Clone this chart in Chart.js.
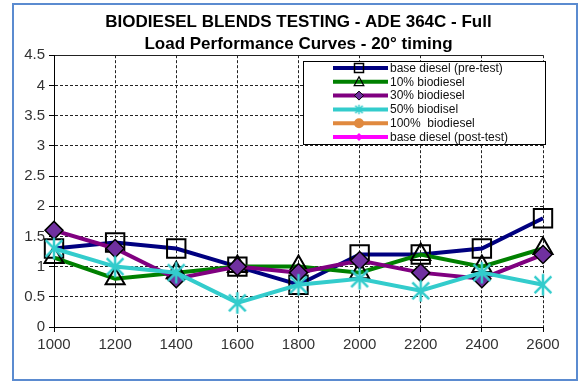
<!DOCTYPE html>
<html>
<head>
<meta charset="utf-8">
<script src="https://cdn.jsdelivr.net/npm/chart.js@4.4.1/dist/chart.umd.min.js"></script>
<style>
  html, body { margin: 0; padding: 0; background: #fff; }
  #wrap { width: 586px; height: 382px; }
</style>
</head>
<body>
<div id="wrap"><canvas id="perfChart" width="586" height="382"></canvas></div>
<script>
// Engine speed (rpm) on the x axis
const rpm = ['1000', '1200', '1400', '1600', '1800', '2000', '2200', '2400', '2600'];

// Series values
const basePre = [1.3, 1.4, 1.3, 1.0, 0.7, 1.2, 1.2, 1.3, 1.8];
const bio10 = [1.15, 0.8, 0.9, 1.0, 1.0, 0.9, 1.2, 1.0, 1.3];
const bio30 = [1.6, 1.3, 0.8, 1.0, 0.9, 1.1, 0.9, 0.8, 1.2];
const bio50 = [1.3, 1.0, 0.9, 0.4, 0.7, 0.8, 0.6, 0.9, 0.7];
const bio100 = [];
const basePost = [];

const seriesNames = [
    'base diesel (pre-test)',
    '10% biodiesel',
    '30% biodiesel',
    '50% biodisel',
    '100%  biodiesel',
    'base diesel (post-test)'
];

const titleLines = [
    'BIODIESEL BLENDS TESTING - ADE 364C - Full',
    'Load Performance Curves - 20\u00b0 timing'
];

const yMin = 0;
const yMax = 4.5;
const yStep = 0.5;

// asterisk marker (vertical bar + X), drawn on a small canvas
function asterisk(size, color, lw) {
    const c = document.createElement('canvas');
    c.width = size;
    c.height = size;
    const g = c.getContext('2d');
    const m = size / 2;
    const r = size / 2 - lw / 2;
    const d = r * 0.78;
    g.strokeStyle = color;
    g.lineWidth = lw;
    g.lineCap = 'butt';
    g.beginPath();
    g.moveTo(m, m - r); g.lineTo(m, m + r);
    g.moveTo(m - d, m - d); g.lineTo(m + d, m + d);
    g.moveTo(m + d, m - d); g.lineTo(m - d, m + d);
    g.stroke();
    return c;
}

const starBig = asterisk(24, '#33CCCC', 2.5);
const starSmall = asterisk(11, '#33CCCC', 1.5);

function drawMarker(ctx, style, x, y, r, fill, stroke, lw) {
    ctx.save();
    ctx.fillStyle = fill;
    ctx.strokeStyle = stroke;
    ctx.lineWidth = lw;
    ctx.beginPath();
    if (style === 'rect') {
        ctx.rect(x - r, y - r, 2 * r, 2 * r);
    } else if (style === 'triangle') {
        ctx.moveTo(x, y - r);
        ctx.lineTo(x + r * 0.95, y + r * 0.75);
        ctx.lineTo(x - r * 0.95, y + r * 0.75);
        ctx.closePath();
    } else if (style === 'rectRot') {
        ctx.moveTo(x, y - r);
        ctx.lineTo(x + r, y);
        ctx.lineTo(x, y + r);
        ctx.lineTo(x - r, y);
        ctx.closePath();
    } else if (style === 'circle') {
        ctx.arc(x, y, r, 0, Math.PI * 2);
    }
    if (style instanceof HTMLCanvasElement) {
        ctx.drawImage(style, x - style.width / 2, y - style.height / 2);
    } else {
        ctx.fill();
        if (lw > 0) ctx.stroke();
    }
    ctx.restore();
}

// legend box inside the plot + blue outer frame
const decor = {
    id: 'decor',
    afterDraw(chart) {
        const ctx = chart.ctx;
        ctx.save();
        ctx.strokeStyle = '#5B8BD0';
        ctx.lineWidth = 2;
        ctx.strokeRect(13, 4, 564, 376);

        const bx = 303, by = 61, bw = 242, bh = 83;
        ctx.fillStyle = '#fff';
        ctx.fillRect(bx, by, bw, bh);
        ctx.strokeStyle = '#000';
        ctx.lineWidth = 1;
        ctx.strokeRect(bx + 0.5, by + 0.5, bw, bh);

        ctx.font = '12px Arial, "Liberation Sans", sans-serif';
        ctx.textBaseline = 'middle';
        ctx.textAlign = 'left';
        chart.data.datasets.forEach((ds, i) => {
            const y = 68 + i * 13.8;
            ctx.strokeStyle = ds.borderColor;
            ctx.lineWidth = 4;
            ctx.beginPath();
            ctx.moveTo(333, y);
            ctx.lineTo(388, y);
            ctx.stroke();
            drawMarker(ctx, ds.legendStyle, 359, y, ds.legendRadius,
                ds.pointBackgroundColor, ds.pointBorderColor, ds.legendBorder);
            ctx.fillStyle = '#111';
            ctx.fillText(ds.label, 390, y + 0.5);
        });
        ctx.restore();
    }
};

new Chart(document.getElementById('perfChart'), {
    type: 'line',
    data: {
        labels: rpm,
        datasets: [
            {
                label: seriesNames[0],
                data: basePre,
                borderColor: '#000080',
                borderWidth: 4,
                pointStyle: 'rect',
                pointRadius: 13,
                pointBackgroundColor: 'rgba(0,0,0,0)',
                pointBorderColor: '#000',
                pointBorderWidth: 2,
                legendStyle: 'rect',
                legendRadius: 4.5,
                legendBorder: 1.5,
                order: 4
            },
            {
                label: seriesNames[1],
                data: bio10,
                borderColor: '#008000',
                borderWidth: 4,
                pointStyle: 'triangle',
                pointRadius: 11,
                pointBackgroundColor: 'rgba(0,0,0,0)',
                pointBorderColor: '#000',
                pointBorderWidth: 2,
                legendStyle: 'triangle',
                legendRadius: 5,
                legendBorder: 1.3,
                order: 3
            },
            {
                label: seriesNames[2],
                data: bio30,
                borderColor: '#800080',
                borderWidth: 4,
                pointStyle: 'rectRot',
                pointRadius: 9,
                pointBackgroundColor: '#7030A0',
                pointBorderColor: '#000',
                pointBorderWidth: 1.5,
                legendStyle: 'rectRot',
                legendRadius: 4.5,
                legendBorder: 1,
                order: 2
            },
            {
                label: seriesNames[3],
                data: bio50,
                borderColor: '#33CCCC',
                borderWidth: 4,
                pointStyle: starBig,
                pointRadius: 12,
                pointBackgroundColor: '#33CCCC',
                pointBorderColor: '#33CCCC',
                legendStyle: starSmall,
                legendRadius: 5,
                legendBorder: 0,
                order: 1
            },
            {
                label: seriesNames[4],
                data: bio100,
                borderColor: '#E0893E',
                borderWidth: 4,
                pointStyle: 'circle',
                pointRadius: 6,
                pointBackgroundColor: '#E0893E',
                pointBorderColor: '#E0893E',
                legendStyle: 'circle',
                legendRadius: 5,
                legendBorder: 0,
                order: 0
            },
            {
                label: seriesNames[5],
                data: basePost,
                borderColor: '#FF00FF',
                borderWidth: 4,
                pointStyle: 'rectRot',
                pointRadius: 5,
                pointBackgroundColor: '#FF00FF',
                pointBorderColor: '#FF00FF',
                legendStyle: 'rectRot',
                legendRadius: 4,
                legendBorder: 0,
                order: 0
            }
        ]
    },
    options: {
        responsive: false,
        animation: false,
        layout: {
            padding: { left: 14, right: 43, top: 0, bottom: 25 }
        },
        plugins: {
            legend: { display: false },
            tooltip: { enabled: false },
            title: {
                display: true,
                fullSize: false,
                text: titleLines,
                color: '#000',
                font: { family: 'Arial, "Liberation Sans", sans-serif', size: 17, weight: 'bold', lineHeight: 1.3 },
                padding: { top: 11, bottom: 0 }
            }
        },
        scales: {
            x: {
                offset: false,
                afterFit: (scale) => { scale.height = 30; },
                grid: {
                    color: '#222',
                    lineWidth: 1,
                    drawTicks: true,
                    tickLength: 5,
                    tickColor: '#000',
                    tickBorderDash: []
                },
                border: { display: true, color: '#000', width: 1, dash: [3, 2] },
                ticks: {
                    color: '#333',
                    padding: 4,
                    maxRotation: 0,
                    font: { family: 'Arial, "Liberation Sans", sans-serif', size: 15 }
                }
            },
            y: {
                min: yMin,
                max: yMax,
                afterFit: (scale) => { scale.width = 40; },
                grid: {
                    color: '#222',
                    lineWidth: 1,
                    drawTicks: true,
                    tickLength: 5,
                    tickColor: '#000',
                    tickBorderDash: []
                },
                border: {
                    display: true,
                    color: '#000',
                    width: 1,
                    dash: (ctx) => (ctx.tick && ctx.tick.value === yMax ? [] : [3, 2])
                },
                ticks: {
                    stepSize: yStep,
                    color: '#333',
                    padding: 4,
                    callback: (v) => String(v),
                    font: { family: 'Arial, "Liberation Sans", sans-serif', size: 15 }
                }
            }
        }
    },
    plugins: [decor]
});
</script>
</body>
</html>
